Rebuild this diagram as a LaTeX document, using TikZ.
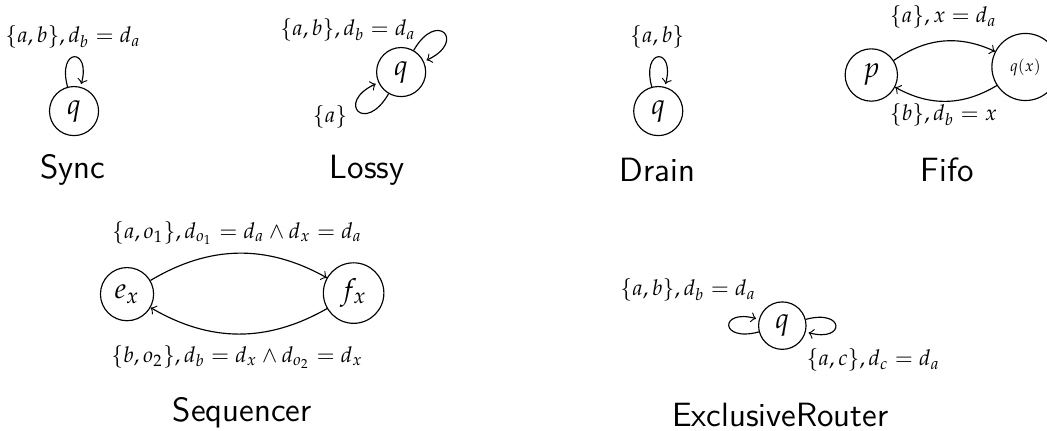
\documentclass[tikz,border=0pt]{standalone}
\usepackage{mathpazo}

\begin{document}
\begin{tikzpicture}[>=to,
    st/.style={draw,circle,inner sep=1pt,minimum size=0.6cm},
    lbl/.style={font=\fontsize{7.6}{9}\selectfont},
    title/.style={font=\sffamily\fontsize{11.7}{14}\selectfont}]
    \useasboundingbox (0,0) rectangle (12.80,-5.26);
    % Sync
    \node[st] (syq) at (0.905,-1.358) {$q$};
    \path[->] (syq) edge[loop above] (syq);
    \node[lbl] (syl) at (0.893,-0.453) {$\{a,b\},d_b = d_a$};
    \node[title] (sync) at (0.893,-2.079) {Sync};
    % Lossy
    \node[st] (loq) at (4.904,-0.881) {$q$};
    \path[->] (loq) edge[out=60,in=25,loop] (loq);
    \path[->] (loq) edge[out=240,in=205,loop] (loq);
    \node[lbl] (lol1) at (4.256,-0.367) {$\{a,b\},d_b = d_a$};
    \node[lbl] (lol2) at (4.036,-1.431) {$\{a\}$};
    \node[title] (lossy) at (4.488,-2.079) {Lossy};
    % Drain
    \node[st] (drq) at (8.047,-1.358) {$q$};
    \path[->] (drq) edge[loop above] (drq);
    \node[lbl] (drl) at (8.035,-0.453) {$\{a,b\}$};
    \node[title] (drain) at (8.035,-2.079) {Drain};
    % Fifo
    \node[st,minimum size=0.64cm] (fip) at (10.652,-0.917) {$p$};
    \node[st,minimum size=0.82cm] (fiq) at (12.536,-0.819) {\fontsize{5.6}{7}\selectfont$q(x)$};
    \draw[->] (fip) to[bend left=30] (fiq);
    \draw[->] (fiq) to[bend left=30] (fip);
    \node[lbl] (fil1) at (11.533,-0.208) {$\{a\},x = d_a$};
    \node[lbl] (fil2) at (11.533,-1.406) {$\{b\},d_b = x$};
    \node[title] (fifo) at (11.582,-2.079) {Fifo};
    % Sequencer
    \node[st,minimum size=0.65cm] (sqe) at (1.553,-3.596) {$e_x$};
    \node[st,minimum size=0.74cm] (sqf) at (4.323,-3.583) {$f_x$};
    \draw[->] (sqe) to[bend left=30] (sqf);
    \draw[->] (sqf) to[bend left=30] (sqe);
    \node[lbl] (sql1) at (2.899,-2.850) {$\{a,o_1\},d_{o_1} = d_a \land d_x = d_a$};
    \node[lbl] (sql2) at (2.899,-4.366) {$\{b,o_2\},d_b = d_x \land d_{o_2} = d_x$};
    \node[title] (sequencer) at (2.960,-5.051) {Sequencer};
    % ExclusiveRouter
    \node[st,minimum size=0.58cm] (erq) at (9.564,-3.981) {$q$};
    \path[->] (erq) edge[loop left] (erq);
    \path[->] (erq) edge[loop right] (erq);
    \node[lbl] (erl1) at (8.414,-3.547) {$\{a,b\},d_b = d_a$};
    \node[lbl] (erl2) at (10.677,-4.403) {$\{a,c\},d_c = d_a$};
    \node[title] (router) at (9.539,-5.075) {ExclusiveRouter};
\end{tikzpicture}
\end{document}
